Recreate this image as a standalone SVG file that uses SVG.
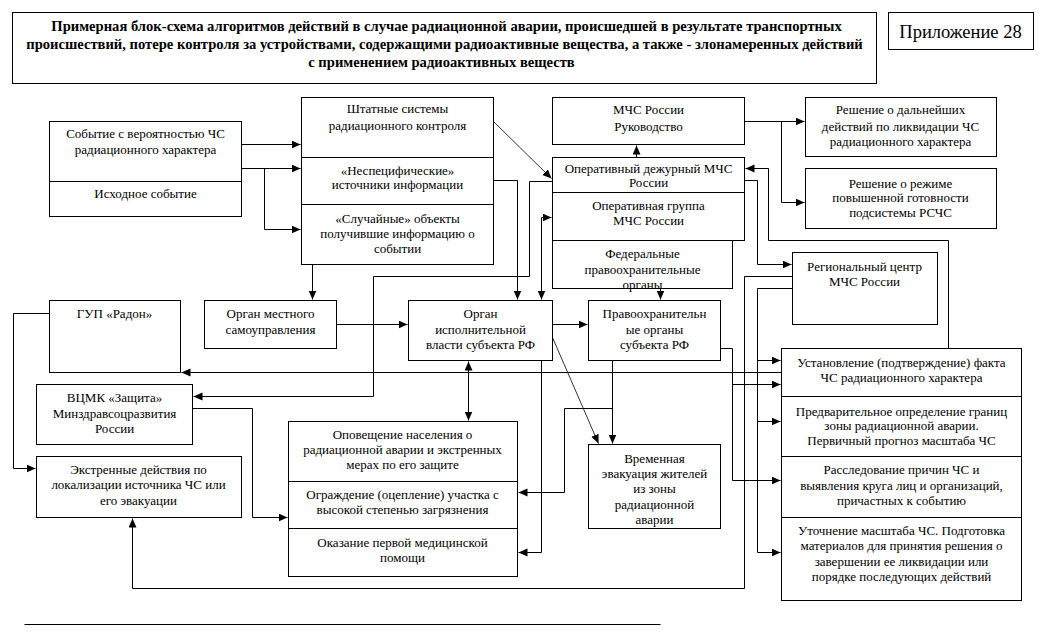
<svg xmlns="http://www.w3.org/2000/svg" width="1045" height="637" viewBox="0 0 1045 637">
<style>
.b{fill:#fff;stroke:#000;stroke-width:1}
.d{stroke:#000;stroke-width:1;fill:none}
.t{font-family:'Liberation Serif','DejaVu Serif',serif;font-size:13px;text-anchor:middle;fill:#000}
.h{font-family:'Liberation Serif','DejaVu Serif',serif;font-size:14.6px;font-weight:bold;text-anchor:middle;fill:#000}
.p{font-family:'Liberation Serif','DejaVu Serif',serif;font-size:18.5px;text-anchor:middle;fill:#000}
.c path{fill:none;stroke:#000;stroke-width:1;marker-end:url(#a)}
.c .n{marker-end:none}
.c .bi{marker-start:url(#s)}
.c .th{stroke-width:0.8}
</style>
<defs>
<marker id="a" markerUnits="userSpaceOnUse" markerWidth="10" markerHeight="9" refX="9" refY="4" orient="auto"><path d="M0,0 L9,4 L0,8 z" fill="#000"/></marker>
<marker id="s" markerUnits="userSpaceOnUse" markerWidth="10" markerHeight="9" refX="9" refY="4" orient="auto-start-reverse"><path d="M0,0 L9,4 L0,8 z" fill="#000"/></marker>
</defs>
<rect width="1045" height="637" fill="#fff"/>
<g transform="translate(0.5 0.5)">
<g id="title">
<rect class="b" x="12" y="12" width="864" height="71"/>
<text class="h" x="446" y="30">Примерная блок-схема алгоритмов действий в  случае радиационной аварии, происшедшей в результате транспортных</text>
<text class="h" x="444" y="48">происшествий, потере контроля за устройствами, содержащими радиоактивные вещества, а также - злонамеренных действий</text>
<text class="h" x="441" y="66">с применением радиоактивных веществ</text>
</g>
<g id="appendix">
<rect class="b" x="888" y="12" width="145" height="37"/>
<text class="p" x="960" y="37">Приложение 28</text>
</g>
<g id="event">
<rect class="b" x="49" y="121" width="192" height="95"/>
<line class="d" x1="49" y1="181" x2="241" y2="181"/>
<text class="t" x="145" y="137">Событие с вероятностью ЧС</text>
<text class="t" x="145" y="153">радиационного характера</text>
<text class="t" x="145" y="197">Исходное событие</text>
</g>
<g id="sources">
<rect class="b" x="301" y="97" width="192" height="167"/>
<line class="d" x1="301" y1="157" x2="493" y2="157"/>
<line class="d" x1="301" y1="204" x2="493" y2="204"/>
<text class="t" x="397" y="112">Штатные системы</text>
<text class="t" x="397" y="129">радиационного контроля</text>
<text class="t" x="397" y="174">«Неспецифические»</text>
<text class="t" x="397" y="188">источники информации</text>
<text class="t" x="397" y="222">«Случайные» объекты</text>
<text class="t" x="397" y="237">получившие информацию о</text>
<text class="t" x="397" y="252">событии</text>
</g>
<g id="mchs-lead">
<rect class="b" x="552" y="97" width="192" height="47"/>
<text class="t" x="648" y="113">МЧС России</text>
<text class="t" x="648" y="130">Руководство</text>
</g>
<g id="mchs-duty">
<rect class="b" x="552" y="157" width="192" height="83"/>
<line class="d" x1="552" y1="192" x2="744" y2="192"/>
<text class="t" x="648" y="172">Оперативный дежурный МЧС</text>
<text class="t" x="648" y="186">России</text>
<text class="t" x="648" y="209">Оперативная группа</text>
<text class="t" x="648" y="224">МЧС России</text>
</g>
<g id="federal">
<rect class="b" x="552" y="240" width="180" height="48"/>
<text class="t" x="642" y="257">Федеральные</text>
<text class="t" x="642" y="273">правоохранительные</text>
<text class="t" x="642" y="288">органы</text>
</g>
<g id="decision1">
<rect class="b" x="805" y="97" width="191" height="59"/>
<text class="t" x="900" y="113">Решение о дальнейших</text>
<text class="t" x="900" y="130">действий по ликвидации ЧС</text>
<text class="t" x="900" y="145">радиационного характера</text>
</g>
<g id="decision2">
<rect class="b" x="805" y="168" width="191" height="60"/>
<text class="t" x="900" y="187">Решение о режиме</text>
<text class="t" x="900" y="201">повышенной готовности</text>
<text class="t" x="900" y="216">подсистемы РСЧС</text>
</g>
<g id="regional">
<rect class="b" x="792" y="252" width="145" height="72"/>
<text class="t" x="864" y="270">Региональный центр</text>
<text class="t" x="864" y="285">МЧС России</text>
</g>
<g id="local">
<rect class="b" x="204" y="300" width="132" height="48"/>
<text class="t" x="270" y="317">Орган местного</text>
<text class="t" x="270" y="333">самоуправления</text>
</g>
<g id="radon">
<rect class="b" x="49" y="300" width="131" height="72"/>
<text class="t" x="114" y="317">ГУП «Радон»</text>
</g>
<g id="executive">
<rect class="b" x="408" y="300" width="144" height="60"/>
<text class="t" x="480" y="317">Орган</text>
<text class="t" x="480" y="333">исполнительной</text>
<text class="t" x="480" y="348">власти субъекта РФ</text>
</g>
<g id="police">
<rect class="b" x="588" y="300" width="132" height="60"/>
<text class="t" x="654" y="317">Правоохранительн</text>
<text class="t" x="654" y="333">ые органы</text>
<text class="t" x="654" y="348">субъекта РФ</text>
</g>
<g id="vcmk">
<rect class="b" x="36" y="384" width="156" height="60"/>
<text class="t" x="114" y="401">ВЦМК «Защита»</text>
<text class="t" x="114" y="417">Минздравсоцразвития</text>
<text class="t" x="114" y="432">России</text>
</g>
<g id="emergency">
<rect class="b" x="36" y="456" width="205" height="61"/>
<text class="t" x="138" y="473">Экстренные действия по</text>
<text class="t" x="138" y="488">локализации источника ЧС  или</text>
<text class="t" x="138" y="504">его эвакуации</text>
</g>
<g id="measures">
<rect class="b" x="288" y="421" width="229" height="155"/>
<line class="d" x1="288" y1="481" x2="517" y2="481"/>
<line class="d" x1="288" y1="528" x2="517" y2="528"/>
<text class="t" x="402" y="438">Оповещение населения о</text>
<text class="t" x="402" y="453">радиационной аварии и экстренных</text>
<text class="t" x="402" y="468">мерах по его защите</text>
<text class="t" x="402" y="498">Ограждение (оцепление) участка с</text>
<text class="t" x="402" y="513">высокой степенью загрязнения</text>
<text class="t" x="402" y="546">Оказание первой медицинской</text>
<text class="t" x="402" y="561">помощи</text>
</g>
<g id="evacuation">
<rect class="b" x="588" y="444" width="132" height="84"/>
<text class="t" x="654" y="462">Временная</text>
<text class="t" x="654" y="477">эвакуация жителей</text>
<text class="t" x="654" y="492">из зоны</text>
<text class="t" x="654" y="508">радиационной</text>
<text class="t" x="654" y="523">аварии</text>
</g>
<g id="stages">
<rect class="b" x="781" y="348" width="240" height="252"/>
<line class="d" x1="781" y1="396" x2="1021" y2="396"/>
<line class="d" x1="781" y1="456" x2="1021" y2="456"/>
<line class="d" x1="781" y1="517" x2="1021" y2="517"/>
<text class="t" x="901" y="366">Установление (подтверждение) факта</text>
<text class="t" x="901" y="381">ЧС радиационного характера</text>
<text class="t" x="901" y="415">Предварительное определение границ</text>
<text class="t" x="901" y="429">зоны радиационной аварии.</text>
<text class="t" x="901" y="444">Первичный прогноз масштаба ЧС</text>
<text class="t" x="901" y="473">Расследование причин ЧС и</text>
<text class="t" x="901" y="489">выявления круга лиц и организаций,</text>
<text class="t" x="901" y="504">причастных к событию</text>
<text class="t" x="901" y="534">Уточнение масштаба ЧС. Подготовка</text>
<text class="t" x="901" y="549">материалов для принятия решения о</text>
<text class="t" x="901" y="565">завершении ее ликвидации или</text>
<text class="t" x="901" y="580">порядке последующих действий</text>
</g>
<g id="connectors" class="c">
<path d="M241,144 H300"/>
<path d="M241,168 H300"/>
<path d="M264,168 V229 H300"/>
<path d="M312,264 V299"/>
<path d="M336,324 H407"/>
<path d="M552,324 H587"/>
<path d="M493,180 H517 V299"/>
<path d="M552,181 H529 V276 H373 V396 H193"/>
<path class="th" d="M493,121 L551,178"/>
<path class="bi" d="M541,299 V217 H551"/>
<path d="M636,157 V145"/>
<path d="M744,121 H804"/>
<path d="M781,121 V202 H804"/>
<path d="M660,288 V299"/>
<path d="M744,180 H757 V264 H791"/>
<path d="M948,348 V240 H768 V168 H745"/>
<path d="M792,276 H744 V588 H132 V518"/>
<path d="M792,288 H757 V552 H780"/>
<path d="M757,360 H780"/>
<path d="M757,421 H780"/>
<path d="M720,348 H732 V480 H780"/>
<path d="M732,384 H780"/>
<path d="M781,372 H181"/>
<path d="M49,313 H13 V468 H35"/>
<path d="M192,408 H252 V517 H287"/>
<path class="bi" d="M468,361 V420"/>
<path class="th" d="M552,337 L598,443"/>
<path d="M541,360 V552 H518"/>
<path d="M612,360 V443"/>
<path d="M612,408 H564 V492 H518"/>
<path class="n" d="M24,624 H660"/>
</g>
</g>
</svg>
